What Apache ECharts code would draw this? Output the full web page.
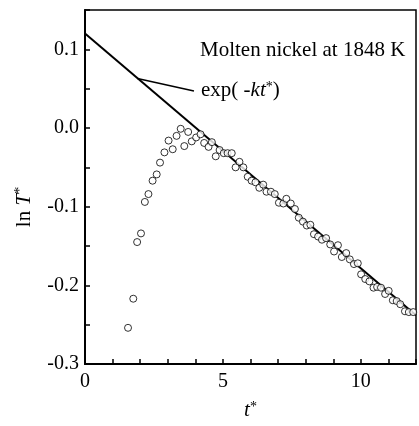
<!DOCTYPE html>
<html>
<head>
<meta charset="utf-8">
<script src="https://cdn.jsdelivr.net/npm/echarts@6/dist/echarts.min.js"></script>
<style>html,body{margin:0;padding:0;background:#fff}#c{width:419px;height:426px}</style>
</head>
<body>
<div id="c"></div>
<script>
// measured data: t* and ln T*
const tStar = [1.56,1.75,1.89,2.03,2.17,2.30,2.45,2.60,2.72,2.88,3.03,3.18,3.32,3.47,3.60,3.74,3.87,4.03,4.19,4.32,4.48,4.60,4.74,4.88,5.03,5.17,5.32,5.46,5.60,5.74,5.90,6.04,6.18,6.32,6.46,6.58,6.74,6.88,7.03,7.19,7.30,7.46,7.61,7.75,7.90,8.04,8.17,8.30,8.45,8.59,8.74,8.89,9.03,9.17,9.31,9.47,9.60,9.75,9.89,10.01,10.16,10.31,10.46,10.59,10.73,10.88,11.01,11.16,11.30,11.43,11.60,11.74,11.90];
const lnT = [-0.254,-0.217,-0.145,-0.134,-0.094,-0.084,-0.067,-0.059,-0.044,-0.031,-0.016,-0.027,-0.010,-0.001,-0.023,-0.005,-0.017,-0.012,-0.008,-0.019,-0.024,-0.018,-0.036,-0.028,-0.032,-0.032,-0.032,-0.050,-0.043,-0.050,-0.062,-0.067,-0.069,-0.076,-0.072,-0.081,-0.081,-0.084,-0.095,-0.096,-0.090,-0.096,-0.103,-0.114,-0.119,-0.124,-0.123,-0.135,-0.138,-0.142,-0.140,-0.148,-0.157,-0.149,-0.164,-0.159,-0.167,-0.173,-0.172,-0.186,-0.192,-0.195,-0.203,-0.202,-0.203,-0.211,-0.207,-0.219,-0.220,-0.224,-0.233,-0.234,-0.234];
// fitted exponential line (ln form): endpoints
const fitT = [0, 12];
const fitLnT = [0.12, -0.238];
// leader line endpoints (data coords)
const leaderT = [1.9, 3.95];
const leaderLnT = [0.063, 0.047];
const xTickLabels = [0, 5, 10];
const yTickLabels = [-0.3, -0.2, -0.1, 0.0, 0.1];

const FONT = 'Liberation Serif';
const chart = echarts.init(document.getElementById('c'));
const near = (v, arr) => arr.some(a => Math.abs(a - v) < 1e-6);

chart.setOption({
  animation: false,
  backgroundColor: '#fff',
  grid: {left: 85, right: 1, top: 10, bottom: 62, show: true, borderColor: '#000', borderWidth: 1.5},
  xAxis: {
    type: 'value', min: 0, max: 12, interval: 1,
    axisLine: {show: true, onZero: false, lineStyle: {color: '#000', width: 2}},
    axisTick: {show: true, inside: true, length: 5, lineStyle: {color: '#000', width: 1.5}},
    splitLine: {show: false},
    axisLabel: {color: '#000', fontFamily: FONT, fontSize: 20, margin: 8,
      formatter: v => near(v, xTickLabels) ? String(v) : ''},
    name: '{i|t}{s|*}', nameLocation: 'middle', nameGap: 36,
    nameTextStyle: {rich: {
      i: {fontFamily: FONT, fontStyle: 'italic', fontSize: 21, color: '#000', verticalAlign: 'bottom'},
      s: {fontFamily: FONT, fontSize: 14, color: '#000', verticalAlign: 'top'}
    }}
  },
  yAxis: {
    type: 'value', min: -0.3, max: 0.15, interval: 0.05,
    axisLine: {show: true, onZero: false, lineStyle: {color: '#000', width: 2}},
    axisTick: {show: true, inside: true, length: 5, lineStyle: {color: '#000', width: 1.5}},
    splitLine: {show: false},
    axisLabel: {color: '#000', fontFamily: FONT, fontSize: 20, margin: 6,
      formatter: v => near(v, yTickLabels) ? v.toFixed(1) : ''}
  },
  graphic: [
    {type: 'text', left: 200, top: 40, style: {text: 'Molten nickel at 1848 K', fontFamily: FONT, fontSize: 21, fill: '#000'}},
    {type: 'text', left: 201, top: 80, style: {
      text: '{n|exp( }{i|-kt}{s|*}{n|)}',
      rich: {
        n: {fontFamily: FONT, fontSize: 21, fill: '#000', verticalAlign: 'bottom'},
        i: {fontFamily: FONT, fontStyle: 'italic', fontSize: 21, fill: '#000', verticalAlign: 'bottom'},
        s: {fontFamily: FONT, fontSize: 14, fill: '#000', verticalAlign: 'top'}
      }}},
    {type: 'text', x: 24, y: 207, rotation: Math.PI / 2, style: {
      text: '{n|ln }{i|T}{s|*}', align: 'center', verticalAlign: 'middle',
      rich: {
        n: {fontFamily: FONT, fontSize: 21, fill: '#000', verticalAlign: 'bottom'},
        i: {fontFamily: FONT, fontStyle: 'italic', fontSize: 21, fill: '#000', verticalAlign: 'bottom'},
        s: {fontFamily: FONT, fontSize: 14, fill: '#000', verticalAlign: 'top'}
      }}}
  ],
  series: [
    {
      type: 'line', data: fitT.map((t, i) => [t, fitLnT[i]]), showSymbol: false, z: 2,
      lineStyle: {color: '#000', width: 2},
      markLine: {silent: true, symbol: ['none', 'none'], label: {show: false},
        lineStyle: {color: '#000', width: 1.5, type: 'solid'},
        data: [[{coord: [leaderT[0], leaderLnT[0]]}, {coord: [leaderT[1], leaderLnT[1]]}]]}
    },
    {
      type: 'scatter', data: tStar.map((t, i) => [t, lnT[i]]), symbol: 'circle', symbolSize: 7, z: 3,
      itemStyle: {color: '#fff', borderColor: '#000', borderWidth: 1}
    }
  ]
});
</script>
</body>
</html>
